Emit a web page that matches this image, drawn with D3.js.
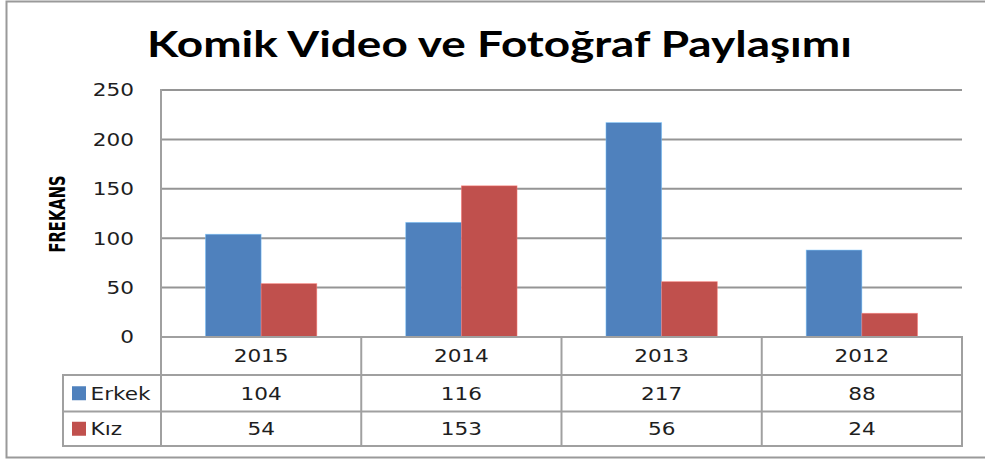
<!DOCTYPE html>
<html>
<head>
<meta charset="utf-8">
<script src="https://cdn.jsdelivr.net/npm/d3@7"></script>
<style>
  html, body { margin: 0; padding: 0; background: #fff; }
  svg { display: block; }
</style>
</head>
<body>
<svg id="chart" width="985" height="459"></svg>
<script>
// Chart data
const titleText = "Komik Video ve Fotoğraf Paylaşımı";
const axisLabel = "FREKANS";
const years = ["2015", "2014", "2013", "2012"];
const seriesNames = ["Erkek", "Kız"];
const erkek = [104, 116, 217, 88];
const kiz = [54, 153, 56, 24];
const yTicks = [0, 50, 100, 150, 200, 250];
const colors = ["#4F81BD", "#C0504D"];

const seriesValues = [erkek, kiz];

const svg = d3.select("#chart");
const lineColor = "#a0a0a0";
const gridColor = "#959595";
const numFont = "'DejaVu Sans', Verdana, sans-serif";
const numSize = 18;
const numStretch = 1.2;   // wide Verdana-style numerals

// Outer chart frame
svg.append("path")
  .attr("d", "M986,1.5 H6.5 V457.5 H986")
  .attr("fill", "none")
  .attr("stroke", "#9a9a9a")
  .attr("stroke-width", 2);

// Layout
const plotLeft = 161, plotRight = 962, plotTop = 90, plotBottom = 337;
const tableLeft = 63;
const rowEdges = [337, 375, 411.5, 446];

const x0 = d3.scaleBand().domain(years).range([plotLeft, plotRight]).paddingInner(0).paddingOuter(0);
const gap = x0.bandwidth() * 0.222;
const x1 = d3.scaleBand().domain(seriesNames).range([gap, x0.bandwidth() - gap]).padding(0);
const y = d3.scaleLinear().domain([0, 250]).range([plotBottom, plotTop]);

// helper: stretched text label at (x, y)
function numLabel(parent, x, yy, txt, anchor) {
  return parent.append("text")
    .attr("transform", `translate(${x},${yy}) scale(${numStretch},1)`)
    .attr("text-anchor", anchor)
    .attr("dy", "0.36em")
    .attr("font-family", numFont)
    .attr("font-size", numSize)
    .attr("fill", "#1e1e1e")
    .text(txt);
}

// Title
svg.append("text")
  .attr("x", 499.5)
  .attr("y", 57)
  .attr("text-anchor", "middle")
  .attr("font-family", "Lato, 'Open Sans', sans-serif")
  .attr("font-weight", "bold")
  .attr("font-size", 37)
  .attr("textLength", 705)
  .attr("lengthAdjust", "spacingAndGlyphs")
  .attr("fill", "#000")
  .text(titleText);

// Gridlines
svg.append("g")
  .selectAll("line")
  .data(yTicks.filter(d => d > 0))
  .join("line")
  .attr("x1", plotLeft)
  .attr("x2", plotRight)
  .attr("y1", d => y(d))
  .attr("y2", d => y(d))
  .attr("stroke", gridColor)
  .attr("stroke-width", 2);

// Y axis tick labels, placed from the axis generator's scale
const yAxis = d3.axisLeft(y).tickValues(yTicks).tickSize(0);
const yg = svg.append("g").attr("class", "y-axis");
yAxis.tickValues().forEach(t => numLabel(yg, 134, yAxis.scale()(t), String(t), "end"));

// Y axis line
svg.append("line")
  .attr("x1", plotLeft).attr("x2", plotLeft)
  .attr("y1", plotTop - 1).attr("y2", plotBottom)
  .attr("stroke", lineColor)
  .attr("stroke-width", 2);

// Axis title
svg.append("text")
  .attr("transform", `translate(65,214) rotate(-90)`)
  .attr("text-anchor", "middle")
  .attr("font-family", "'DejaVu Sans Condensed', 'DejaVu Sans', sans-serif")
  .attr("font-weight", "bold")
  .attr("font-size", 21)
  .attr("textLength", 77)
  .attr("lengthAdjust", "spacingAndGlyphs")
  .attr("fill", "#000")
  .text(axisLabel);

// Bars
const groups = svg.append("g")
  .selectAll("g")
  .data(years)
  .join("g")
  .attr("transform", d => `translate(${x0(d)},0)`);

groups.selectAll("rect")
  .data((d, i) => seriesNames.map((s, j) => ({ s, v: seriesValues[j][i], c: colors[j] })))
  .join("rect")
  .attr("x", d => x1(d.s))
  .attr("width", x1.bandwidth())
  .attr("y", d => y(d.v))
  .attr("height", d => y(0) - y(d.v))
  .attr("fill", d => d.c)
  .attr("stroke", d => d3.color(d.c).brighter(1.2))
  .attr("stroke-width", 0.8)
  .attr("stroke-opacity", 0.6);

// Data table
const table = svg.append("g")
  .attr("fill", "none")
  .attr("stroke", lineColor)
  .attr("stroke-width", 2);

table.append("line").attr("x1", plotLeft).attr("x2", plotRight).attr("y1", rowEdges[0]).attr("y2", rowEdges[0]);
rowEdges.slice(1).forEach(ry => {
  table.append("line").attr("x1", tableLeft).attr("x2", plotRight).attr("y1", ry).attr("y2", ry);
});
x0.domain().forEach(d => {
  table.append("line").attr("x1", x0(d)).attr("x2", x0(d)).attr("y1", rowEdges[0]).attr("y2", rowEdges[3] + 1);
});
table.append("line").attr("x1", plotRight).attr("x2", plotRight).attr("y1", rowEdges[0] - 1).attr("y2", rowEdges[3] + 1);
table.append("line").attr("x1", tableLeft).attr("x2", tableLeft).attr("y1", rowEdges[1] - 1).attr("y2", rowEdges[3] + 1);

// header row: years
const hdr = svg.append("g");
years.forEach(yr => numLabel(hdr, x0(yr) + x0.bandwidth() / 2, (rowEdges[0] + rowEdges[1]) / 2, yr, "middle"));

// value rows with legend keys
seriesNames.forEach((name, j) => {
  const cy = (rowEdges[j + 1] + rowEdges[j + 2]) / 2;
  svg.append("rect")
    .attr("x", 72).attr("y", cy - 7)
    .attr("width", 14).attr("height", 14)
    .attr("fill", colors[j]);
  const row = svg.append("g");
  numLabel(row, 90.5, cy, name, "start");
  years.forEach((yr, i) => numLabel(row, x0(yr) + x0.bandwidth() / 2, cy, String(seriesValues[j][i]), "middle"));
});
</script>
</body>
</html>
